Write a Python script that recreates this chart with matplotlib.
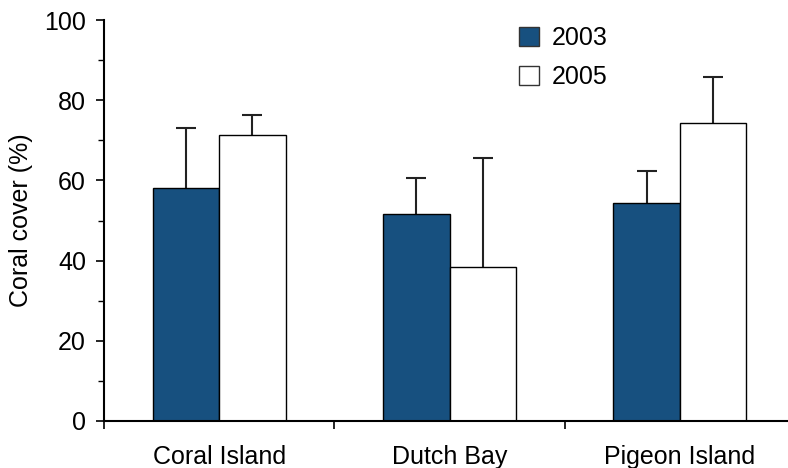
import matplotlib
matplotlib.use("Agg")
import matplotlib.pyplot as plt
import numpy as np
from matplotlib.patches import Patch

sites = ["Coral Island", "Dutch Bay", "Pigeon Island"]
years = ["2003", "2005"]
cover_2003 = [58.2, 51.7, 54.4]
err_2003 = [14.9, 8.9, 8.0]
cover_2005 = [71.4, 38.4, 74.4]
err_2005 = [5.0, 27.3, 11.5]

plt.rcParams['font.family'] = ['Liberation Sans', 'DejaVu Sans']

fig = plt.figure(figsize=(7.88, 4.68), dpi=100)
ax = fig.add_axes([104/788, 1-421/468, 691/788, 401/468])

x = np.arange(len(sites))
w = 0.288
c03 = '#17507F'
ek = dict(ecolor='#222222', elinewidth=1.5, capsize=7, capthick=1.5)
ax.bar(x - w/2, cover_2003, w, color=c03, edgecolor='black', linewidth=1.0, zorder=2)
ax.bar(x + w/2, cover_2005, w, color='white', edgecolor='black', linewidth=1.0, zorder=2)
# symmetric error bars drawn behind bars so only the upper half is visible
ax.errorbar(x - w/2, cover_2003, yerr=err_2003, fmt='none', zorder=1, **ek)
ax.errorbar(x + w/2, cover_2005, yerr=err_2005, fmt='none', zorder=1, **ek)

ax.set_xlim(-0.5, 2.5)
ax.set_ylim(0, 100)
ax.set_yticks(np.arange(0, 101, 20))
ax.set_yticks(np.arange(10, 100, 20), minor=True)
ax.set_xticks([-0.5, 0.5, 1.5, 2.5])
ax.set_xticklabels([])
ax.set_xticks(x, minor=True)
ax.set_xticklabels(sites, minor=True)
ax.tick_params(axis='x', which='major', length=6, width=1.2, direction='out')
ax.tick_params(axis='x', which='minor', length=0, pad=17, labelsize=18)
ax.tick_params(axis='y', which='major', length=6, width=1.2, direction='out', labelsize=18, pad=7)
ax.tick_params(axis='y', which='minor', length=4, width=1.0, direction='out')
for s in ['top', 'right']:
    ax.spines[s].set_visible(False)
for s in ['left', 'bottom']:
    ax.spines[s].set_linewidth(1.5)
ax.set_ylabel("Coral cover (%)", fontsize=18, labelpad=8)

handles = [Patch(facecolor=c03, edgecolor='#333333', linewidth=1.0),
           Patch(facecolor='white', edgecolor='#333333', linewidth=1.0)]
fig.legend(handles, years, loc='upper left', bbox_to_anchor=(519/788, 1-26/468),
           frameon=False, fontsize=18, handlelength=0.8, handleheight=0.8,
           handletextpad=0.5, labelspacing=0.6, borderpad=0, borderaxespad=0)

fig.savefig("out.png", dpi=100)
